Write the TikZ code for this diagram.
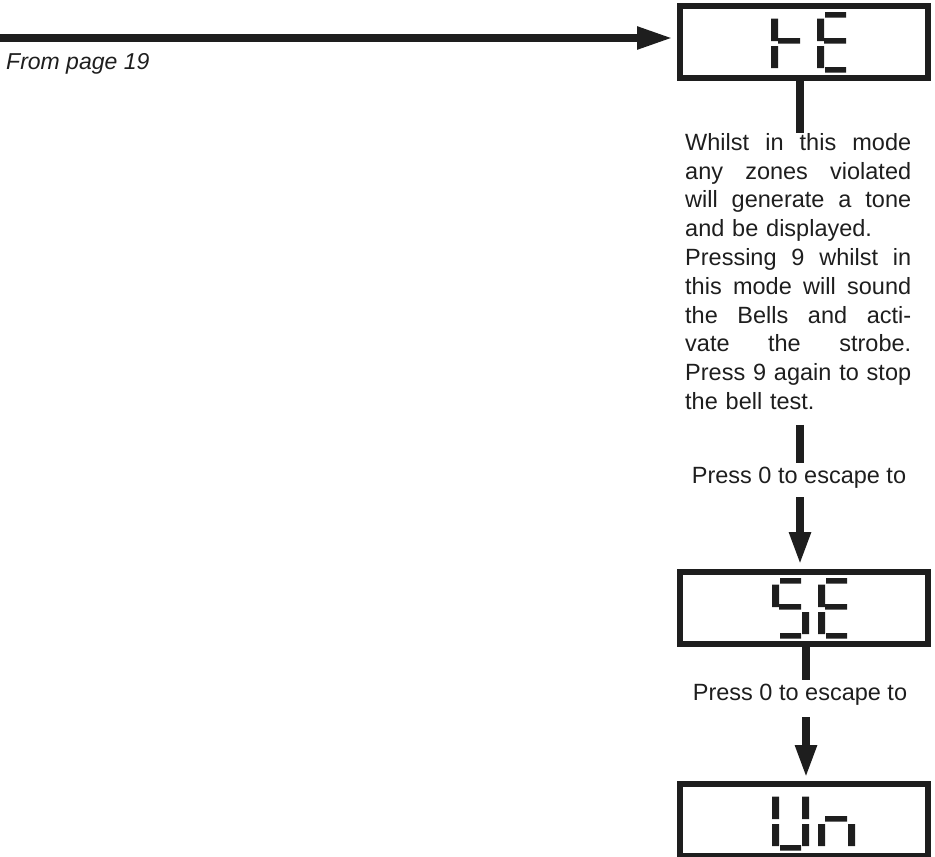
\documentclass[tikz,border=0pt]{standalone}
\usepackage{fontspec}
\setmainfont{Liberation Sans}
\usetikzlibrary{arrows.meta}
\definecolor{PanelInk}{HTML}{1E1E1E}

% segments of one digit, origin at its top left, y runs down
\newcommand{\segA}{(8,0) rectangle (29,5.5)}
\newcommand{\segB}{(30,6.5) rectangle (37,29)}
\newcommand{\segC}{(30,34) rectangle (37,56)}
\newcommand{\segD}{(8,55) rectangle (29,60.5)}
\newcommand{\segE}{(0,34) rectangle (7,56)}
\newcommand{\segF}{(0,6.5) rectangle (7,29)}
\newcommand{\segG}{(7,26) rectangle (29,31.5)}
% a justified line: words are spread by \hfill
\newcommand{\jline}[1]{\leavevmode\hbox to 226pt{#1}}

\begin{document}
\begin{tikzpicture}[x=1pt, y=-1pt,
    display/.style={draw=PanelInk, line width=6pt, minimum width=248pt, minimum height=72pt, inner sep=0pt},
    lit/.style={fill=PanelInk},
    caption/.style={font=\fontsize{23.5}{28.8}\selectfont, text=PanelInk, inner sep=3pt},
    bar/.style={draw=PanelInk, line width=8pt},
    flow/.style={bar, -{Triangle[length=33pt, width=20pt]}}]
    \path[use as bounding box] (0,0) rectangle (935,857);

    % the three displays
    \node[display] (he) at (804,42) {};
    \node[display] (se) at (804,608) {};
    \node[display] (un) at (804,820) {};

    \fill[lit, shift={(he.north west)}, shift={(94,9)}] \segE \segF \segG;
    \fill[lit, shift={(he.north west)}, shift={(140,9)}] \segA \segD \segE \segF \segG;
    \fill[lit, shift={(se.north west)}, shift={(95,9)}] \segA \segC \segD \segF \segG;
    \fill[lit, shift={(se.north west)}, shift={(141,9)}] \segA \segD \segE \segF \segG;
    \fill[lit, shift={(un.north west)}, shift={(95,9)}] \segB \segC \segD \segE \segF;
    \fill[lit, shift={(un.north west)}, shift={(141,9)}] \segC \segE \segG;

    % texts
    \node[caption, anchor=base west, font=\fontsize{23}{28.8}\selectfont\itshape] (frompage) at (3,69) {From page 19};
    \node[caption, anchor=north west, inner sep=0pt, text width=226pt, align=left] (info) at (685,133) {%
      \jline{Whilst\hfill in\hfill this\hfill mode}\\
      \jline{any\hfill zones\hfill violated}\\
      \jline{will\hfill generate\hfill a\hfill tone}\\
      and be displayed.\\
      \jline{Pressing\hfill 9\hfill whilst\hfill in}\\
      \jline{this\hfill mode\hfill will\hfill sound}\\
      \jline{the\hfill Bells\hfill and\hfill acti-}\\
      \jline{vate\hfill the\hfill strobe.}\\
      \jline{Press\hfill 9\hfill again\hfill to\hfill stop}\\
      the bell test.};
    \node[caption, anchor=base] (esc1) at (799,483) {Press 0 to escape to};
    \node[caption, anchor=base] (esc2) at (800,700) {Press 0 to escape to};

    % connectors
    \coordinate (entry) at (0,38);
    \coordinate (col) at (800,0);
    \coordinate (col2) at (806,0);
    \draw[bar, -{Triangle[length=36pt, width=21pt]}, shorten >=4pt] (entry) -- (entry -| he.west);
    \draw[bar] (col |- he.south) -- (col |- info.north);
    \draw[bar, shorten <=15pt] (col |- info.south) -- (col |- esc1.north);
    \draw[flow, shorten <=6pt, shorten >=4pt] (col |- esc1.south) -- (col |- se.north);
    \draw[bar] (col2 |- se.south) -- (col2 |- esc2.north);
    \draw[flow, shorten <=9pt, shorten >=3pt] (col2 |- esc2.south) -- (col2 |- un.north);
\end{tikzpicture}
\end{document}
